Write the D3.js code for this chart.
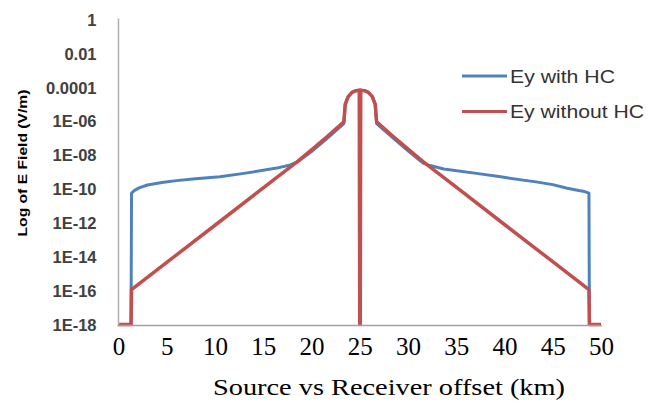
<!DOCTYPE html>
<html><head><meta charset="utf-8">
<script src="https://cdn.jsdelivr.net/npm/d3@7/dist/d3.min.js"></script>
<style>body{margin:0;background:#fff}svg{display:block}</style>
</head><body><svg id="c" width="660" height="402"></svg>
<script>
// ---- data ----
const seriesNames = ["Ey with HC", "Ey without HC"];
const xTicks = [0,5,10,15,20,25,30,35,40,45,50];
const yTicks = [1,1e-2,1e-4,1e-6,1e-8,1e-10,1e-12,1e-14,1e-16,1e-18];
const yTickLabels = ["1","0.01","0.0001","1E-06","1E-08","1E-10","1E-12","1E-14","1E-16","1E-18"];

const withHC_x = [0,1.3,1.35,1.7,2.2,3.0,4.5,6.0,8.0,10.5,13.0,16.4,17.8,18.5,20.0,21.6,23.35,
  23.5,23.8,24.2,24.6,25.05,25.5,25.9,26.3,26.6,
  26.75,28.5,30.1,31.6,32.3,33.7,37.1,39.6,42.1,43.1,45.0,46.5,47.7,48.3,48.75,48.8,50];
const withHC_y = [1e-18,1e-18,5.6e-11,8.5e-11,1.2e-10,1.7e-10,2.4e-10,3.1e-10,4.0e-10,5.2e-10,8.3e-10,1.7e-9,2.6e-9,3.8e-9,1.6e-8,9.5e-8,7.2e-7,
  1e-5,2.8e-5,5e-5,6.3e-5,6.8e-5,6.3e-5,5e-5,2.8e-5,1e-5,
  7.2e-7,9.5e-8,1.6e-8,3.2e-9,2.4e-9,1.5e-9,8.3e-10,5.2e-10,3.2e-10,2.7e-10,1.8e-10,1.1e-10,8e-11,7e-11,5.6e-11,1e-18,1e-18];

const withoutHC_x = [0,1.3,1.35,5.0,10.0,15.0,18.5,20.0,21.6,23.35,
  23.5,23.8,24.2,24.6,24.95,25.0,25.05,25.1,25.5,25.9,26.3,26.6,
  26.75,28.5,30.1,31.6,35.1,40.1,45.1,48.75,48.8,50];
const withoutHC_y = [1e-18,1e-18,1.15e-16,4.6e-15,7.2e-13,1.15e-10,4e-9,2e-8,1.2e-7,9.1e-7,
  1e-5,2.8e-5,5e-5,6.3e-5,6.8e-5,1e-18,1e-18,6.8e-5,6.3e-5,5e-5,2.8e-5,1e-5,
  9.1e-7,1.2e-7,2e-8,4e-9,1.15e-10,7.2e-13,4.6e-15,1.15e-16,1e-18,1e-18];

const colors = ["#4F81BD", "#C0504D"];

// ---- chart ----
const svg = d3.select("#c");
const x = d3.scaleLinear().domain([0,50]).range([118.5, 601]);
const y = d3.scaleLog().domain([1e-18, 1]).range([324.5, 19.5]);

// y axis labels
const yAxis = d3.axisLeft(y).tickValues(yTicks).tickFormat((d,i)=>yTickLabels[i]).tickSize(0).tickPadding(22);
const gy = svg.append("g").attr("transform",`translate(${x(0)},0)`).call(yAxis);
gy.select(".domain").remove();
gy.selectAll("text").attr("font-family","'Liberation Sans', Arial, sans-serif").attr("font-weight","bold")
  .attr("font-size","16.5px").attr("fill","#404040").attr("dy","0.35em");

// x axis labels
const xAxis = d3.axisBottom(x).tickValues(xTicks).tickFormat(d3.format("d")).tickSize(0).tickPadding(13);
const gx = svg.append("g").attr("transform",`translate(0,${y(1e-18)})`).call(xAxis);
gx.select(".domain").remove();
gx.selectAll("text").attr("font-family","'Liberation Serif', 'Times New Roman', serif")
  .attr("font-size","25px").attr("fill","#000");

// series
const line = d3.line().x(d=>x(d[0])).y(d=>y(d[1]));
const blue = withHC_x.map((v,i)=>[v, withHC_y[i]]);
const red = withoutHC_x.map((v,i)=>[v, withoutHC_y[i]]);
svg.append("path").datum(blue).attr("d",line).attr("fill","none").attr("stroke",colors[0])
  .attr("stroke-width",3).attr("stroke-linejoin","round");
svg.append("path").datum(red).attr("d",line).attr("fill","none").attr("stroke",colors[1])
  .attr("stroke-width",3.5).attr("stroke-linejoin","round");

// axes lines (drawn over the series)
svg.append("line").attr("x1",x(0)).attr("x2",x(0)).attr("y1",y(1)-1).attr("y2",y(1e-18)+1)
  .attr("stroke","#b0b0b0").attr("stroke-width",1.5);
svg.append("line").attr("x1",x(0)-1).attr("x2",x(50)+1).attr("y1",y(1e-18)+1).attr("y2",y(1e-18)+1)
  .attr("stroke","#a0a0a0").attr("stroke-width",1.5);

// titles
svg.append("text").attr("transform","translate(27,163) rotate(-90)").attr("text-anchor","middle")
  .attr("font-family","'Liberation Sans', Arial, sans-serif").attr("font-weight","bold").attr("font-size","13.5px")
  .attr("fill","#000").attr("textLength",147).attr("lengthAdjust","spacingAndGlyphs").text("Log of E Field (V/m)");
svg.append("text").attr("x",389).attr("y",395).attr("text-anchor","middle")
  .attr("font-family","'Liberation Serif', 'Times New Roman', serif").attr("font-size","23px")
  .attr("fill","#000").attr("textLength",352).attr("lengthAdjust","spacingAndGlyphs").text("Source vs Receiver offset (km)");

// legend
const legLens = [105, 134];
const leg = svg.append("g");
[76, 111.5].forEach((ly,i)=>{
  leg.append("line").attr("x1",462).attr("x2",507).attr("y1",ly).attr("y2",ly)
    .attr("stroke",colors[i]).attr("stroke-width",3);
  leg.append("text").attr("x",510).attr("y",ly).attr("dy","0.36em")
    .attr("font-family","'Liberation Sans', Arial, sans-serif").attr("font-size","18.5px").attr("fill","#333")
    .attr("textLength",legLens[i]).attr("lengthAdjust","spacingAndGlyphs")
    .text(seriesNames[i]);
});
</script></body></html>
